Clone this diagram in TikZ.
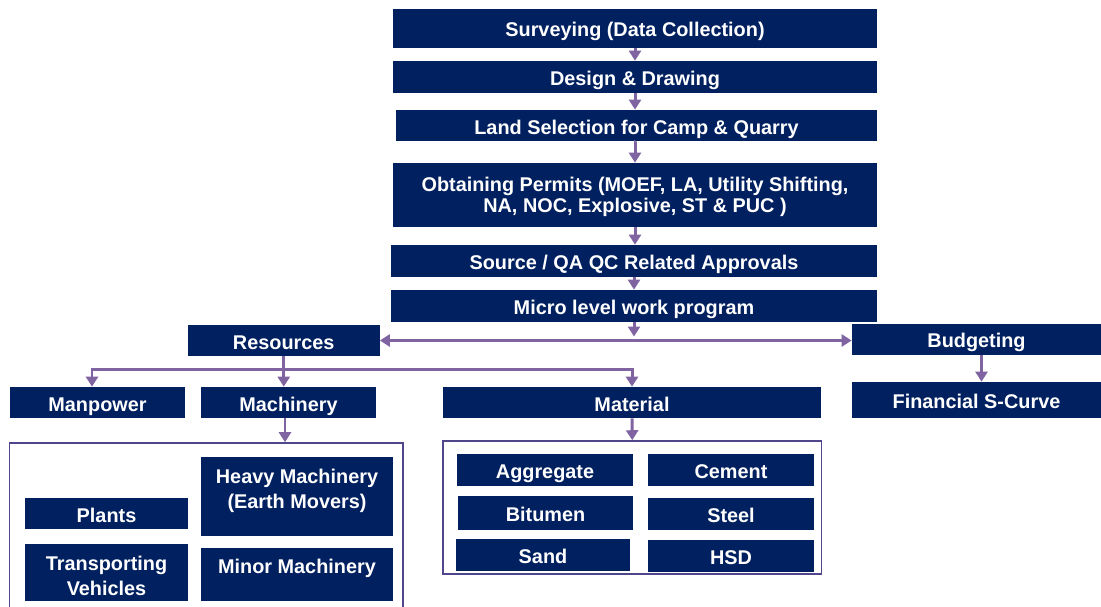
\documentclass[tikz,border=0pt]{standalone}
\usepackage{fontspec}
\setmainfont{Liberation Sans}
\usetikzlibrary{arrows.meta}

\definecolor{boxnavy}{HTML}{002060}
\definecolor{arrowpurple}{HTML}{8064A2}
\definecolor{framepurple}{RGB}{80,70,140}

\begin{document}
\begin{tikzpicture}[x=0.02cm, y=-0.02cm,
  stage/.style 2 args={fill=boxnavy, text=white, inner sep=0pt, align=center,
    minimum width=#1*0.02cm, minimum height=#2*0.02cm,
    font=\bfseries\fontsize{11.3}{12}\selectfont},
  oneline/.style={text height=1.12em, text depth=0.14em},
  stagetext/.style={text=white, inner sep=0pt, align=center,
    font=\bfseries\fontsize{11.3}{14.2}\selectfont},
  groupbox/.style 2 args={draw=framepurple, line width=0.9pt, inner sep=0pt,
    minimum width=#1*0.02cm, minimum height=#2*0.02cm},
  link/.style={draw=arrowpurple, line width=1.7pt,
    -{Triangle[width=0.24cm,length=0.2cm]}},
  dlink/.style={link, {Triangle[width=0.24cm,length=0.2cm]}-{Triangle[width=0.24cm,length=0.2cm]}}]
  \useasboundingbox (0,0) rectangle (1101,606);

  % Define nodes
  \node[stage={484}{38.5}, oneline] (surv) at (635,28.25) {Surveying (Data Collection)};
  \node[stage={484}{31.5}, oneline] (design) at (635,76.75) {Design \& Drawing};
  \node[stage={481}{31}, oneline] (land) at (636.5,125.5) {Land Selection for Camp \& Quarry};
  \node[stage={484}{64}] (permits) at (635,195) {};
  \node[stagetext, font=\bfseries\fontsize{11.3}{12}\selectfont] (permitstext) at (635,196.5) {Obtaining Permits (MOEF, LA, Utility Shifting,\\NA, NOC, Explosive, ST \& PUC )};
  \node[stage={486}{31.5}, oneline] (source) at (634,260.75) {Source / QA QC Related Approvals};
  \node[stage={486}{31.5}, oneline] (micro) at (634,305.75) {Micro level work program};

  \node[stage={191.5}{31}, oneline] (res) at (283.75,340.5) {Resources};
  \node[stage={249}{30.5}, oneline] (budget) at (976.5,339.25) {Budgeting};
  \node[stage={249}{35.5}, oneline] (fin) at (976.5,399.75) {Financial S-Curve};

  \node[stage={175}{31}, oneline] (manpower) at (97.5,402.5) {Manpower};
  \node[stage={175}{31}, oneline] (machinery) at (288.5,402.5) {Machinery};
  \node[stage={378}{31}, oneline] (material) at (632,402.5) {Material};
  \coordinate (split) at (283.75,369);

  % Machinery group
  \node[groupbox={393.5}{172}] (machframe) at (206.25,529) {};
  \node[stage={163}{31}, oneline] (plants) at (106.5,513.5) {Plants};
  \node[stage={192}{79}] (heavy) at (297,496.5) {};
  \node[stagetext] (heavytext) at (297,490.5) {Heavy Machinery\\(Earth Movers)};
  \node[stage={163}{57}] (transport) at (106.5,572.5) {};
  \node[stagetext] (transporttext) at (106.5,576) {Transporting\\Vehicles};
  \node[stage={192}{53}] (minor) at (297,574.5) {};
  \node[stagetext] (minortext) at (297,568.5) {Minor Machinery};

  % Material group
  \node[groupbox={378.5}{133}] (matframe) at (632.25,507.5) {};
  \node[stage={176}{32}, oneline] (agg) at (545,470) {Aggregate};
  \node[stage={166}{32}, oneline] (cement) at (731,470) {Cement};
  \node[stage={175}{34}, oneline] (bitumen) at (545.5,513) {Bitumen};
  \node[stage={166}{32}, oneline] (steel) at (731,514) {Steel};
  \node[stage={174}{32}, oneline] (sand) at (543,555) {Sand};
  \node[stage={166}{32}, oneline] (hsd) at (731,556) {HSD};

  % Connect the nodes
  \draw[link] (surv) -- (design);
  \draw[link] (design) -- (design |- land.north);
  \draw[link] (land) -- (land.south -| permits) -- (permits);
  \draw[link] (permits) -- (permits.south |- source.north);
  \draw[link] (source) -- (source.south |- micro.north);
  \draw[link] (micro) -- ([yshift=0.08cm]micro.south |- res.east);
  \draw[dlink] (res.east) -- (budget.west |- res.east);
  \draw[link] ([xshift=0.1cm]budget.south) -- ([xshift=0.1cm]fin.north);

  \draw[link, -] (res.south) -- (split);
  \draw[link] (split) -| ([xshift=-0.11cm]manpower.north);
  \draw[link] (split) -- (split |- machinery.north);
  \draw[link] (split) -| (material.north);

  \draw[link] ([xshift=-0.07cm]machinery.south) -- ([xshift=-0.07cm]machinery.south |- machframe.north);
  \draw[link] (material.south) -- (matframe.north);
\end{tikzpicture}
\end{document}
